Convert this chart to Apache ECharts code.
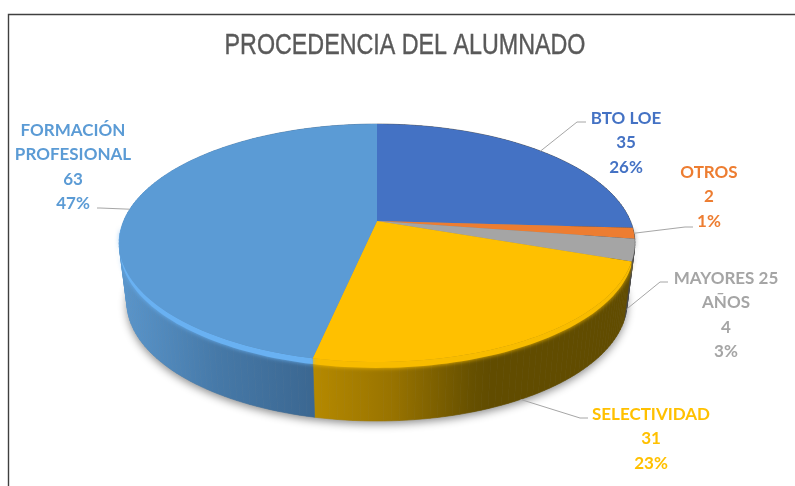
<!DOCTYPE html>
<html>
<head>
<meta charset="utf-8">
<title>Procedencia del alumnado</title>
<script src="https://cdn.jsdelivr.net/npm/echarts@6/dist/echarts.min.js"></script>
<style>
  html, body { margin: 0; padding: 0; background: #fff; }
  #chart { width: 795px; height: 486px; }
</style>
</head>
<body>
<div id="chart"></div>
<script>
const categories = ['BTO LOE', 'OTROS', 'MAYORES 25\nAÑOS', 'SELECTIVIDAD', 'FORMACIÓN\nPROFESIONAL'];
const values = [35, 2, 4, 31, 63];
const colors = ['#4472C4', '#ED7D31', '#A5A5A5', '#FFC000', '#5B9BD5'];

// label centres and leader elbows, one per slice
const labelCenters = [[626, 143], [709, 197], [726, 315], [651, 439], [73, 167]];
const leaderElbows = [[[577, 122], [586, 122]], [[685, 227], [693, 227]], [[660, 282], [668, 282]], [[580, 418], [588, 418]], [[100, 208], [97, 208]]];
const leaderOnWall = [false, false, true, true, false];

const total = values.reduce((a, b) => a + b, 0);
const starts = [];
values.reduce((acc, v, i) => { starts[i] = acc; return acc + v; }, 0);

// perspective view of the pie: circle angle (clockwise from top) to screen
const CX = 377, APEX_Y = 221, PX = 253.4, PY = 114.9, PERSP = -0.185;
const WALL = 59, WALL_SCALE = 0.97;
// depth: 0 on the top face rim, 1 on the bottom of the wall
function rim(frac, depth) {
  const t = frac * Math.PI * 2;
  const u = Math.sin(t), v = -Math.cos(t);
  const w = 1 + PERSP * v;
  const x = CX + PX * u / w, y = APEX_Y + PY * v / w;
  const d = depth || 0;
  return [CX + (x - CX) * (1 - (1 - WALL_SCALE) * d), y + WALL * d];
}
function arc(from, to, depth) {
  const pts = [];
  const n = Math.max(4, Math.ceil((to - from) * 240));
  for (let i = 0; i <= n; i++) pts.push(rim(from + (to - from) * i / n, depth));
  return pts;
}
function range(i) {
  return [starts[i] / total, (starts[i] + values[i]) / total];
}
function xGrad(x, x2, stops) {
  return {
    type: 'linear', global: true, x: x, y: 0, x2: x2, y2: 0,
    colorStops: stops.map(s => ({ offset: s[0], color: s[1] }))
  };
}

const wallFills = [
  '#3a3f4a', '#4a4a4a', '#4a4a4a',
  xGrad(314, 490, [[0, '#B58900'], [0.45, '#987300'], [0.9, '#665000'], [1, '#614C00']]),
  xGrad(120, 314, [[0, '#5A96CC'], [0.5, '#4679A8'], [1, '#3B6791']])
];
const bevelColors = [null, '#555555', '#5a5a5a', '#F8BC00', '#69B1F2'];

function renderWall(params) {
  const i = params.dataIndex;
  const [a, b] = range(i);
  const children = [];
  if (i === 0) {
    children.push({
      type: 'polygon',
      shape: { points: arc(0, 1, 1) },
      style: { fill: '#888', shadowColor: 'rgba(0,0,0,0.45)', shadowBlur: 9, shadowOffsetY: 3 }
    });
  }
  // one quad per rim step, so the outline stays filled where the wall turns away
  const up = arc(a, b, 0), down = arc(a, b, 1);
  for (let k = 0; k < up.length - 1; k++) {
    children.push({
      type: 'polygon',
      shape: { points: [up[k], up[k + 1], down[k + 1], down[k]] },
      style: { fill: wallFills[i], stroke: wallFills[i], lineWidth: 0.6 }
    });
  }
  return { type: 'group', children: children };
}
function renderBevel(params) {
  const i = params.dataIndex;
  const [a, b] = range(i);
  const from = Math.max(a, 0.26), to = Math.min(b, 0.74);
  if (!bevelColors[i] || from >= to) return { type: 'group', children: [] };
  return {
    type: 'polygon',
    shape: { points: arc(from, to, 0).concat(arc(from, to, 0.1).reverse()) },
    style: { fill: bevelColors[i], shadowColor: bevelColors[i], shadowBlur: 4 }
  };
}
function renderTop(params) {
  const i = params.dataIndex;
  const [a, b] = range(i);
  return {
    type: 'polygon',
    shape: { points: [[CX, APEX_Y]].concat(arc(a, b, 0)) },
    style: { fill: colors[i] }
  };
}
function renderLabel(params) {
  const i = params.dataIndex;
  const [a, b] = range(i);
  const pct = Math.round(values[i] / total * 100);
  return {
    type: 'group',
    children: [
      {
        type: 'polyline',
        shape: { points: [rim((a + b) / 2, leaderOnWall[i] ? 1 : 0)].concat(leaderElbows[i]) },
        style: { fill: null, stroke: '#A6A6A6', lineWidth: 1 }
      },
      {
        type: 'text',
        style: {
          text: categories[i] + '\n' + values[i] + '\n' + pct + '%',
          x: labelCenters[i][0], y: labelCenters[i][1],
          align: 'center', verticalAlign: 'middle',
          fill: colors[i], fontFamily: 'Lato', fontWeight: 'bold',
          fontSize: 17, lineHeight: 24.4
        }
      }
    ]
  };
}

const chart = echarts.init(document.getElementById('chart'), null, { renderer: 'canvas' });
const rows = values.map((v, i) => ({ name: categories[i], value: v }));
const layer = (fn, z) => ({ type: 'custom', coordinateSystem: 'none', data: rows, renderItem: fn, z: z, silent: true });

chart.setOption({
  animation: false,
  backgroundColor: '#fff',
  graphic: [
    {
      type: 'rect',
      shape: { x: 8.5, y: 14.5, width: 800, height: 500 },
      style: { fill: null, stroke: '#404040', lineWidth: 1.4 },
      silent: true
    },
    {
      type: 'text',
      x: 405, y: 46, scaleX: 0.776,
      style: {
        text: 'PROCEDENCIA DEL ALUMNADO',
        align: 'center', verticalAlign: 'middle',
        fontFamily: 'Liberation Sans', fontSize: 30, fill: '#595959',
        stroke: '#595959', lineWidth: 0.4
      },
      silent: true
    }
  ],
  series: [layer(renderWall, 2), layer(renderBevel, 3), layer(renderTop, 4), layer(renderLabel, 5)]
});
</script>
</body>
</html>
